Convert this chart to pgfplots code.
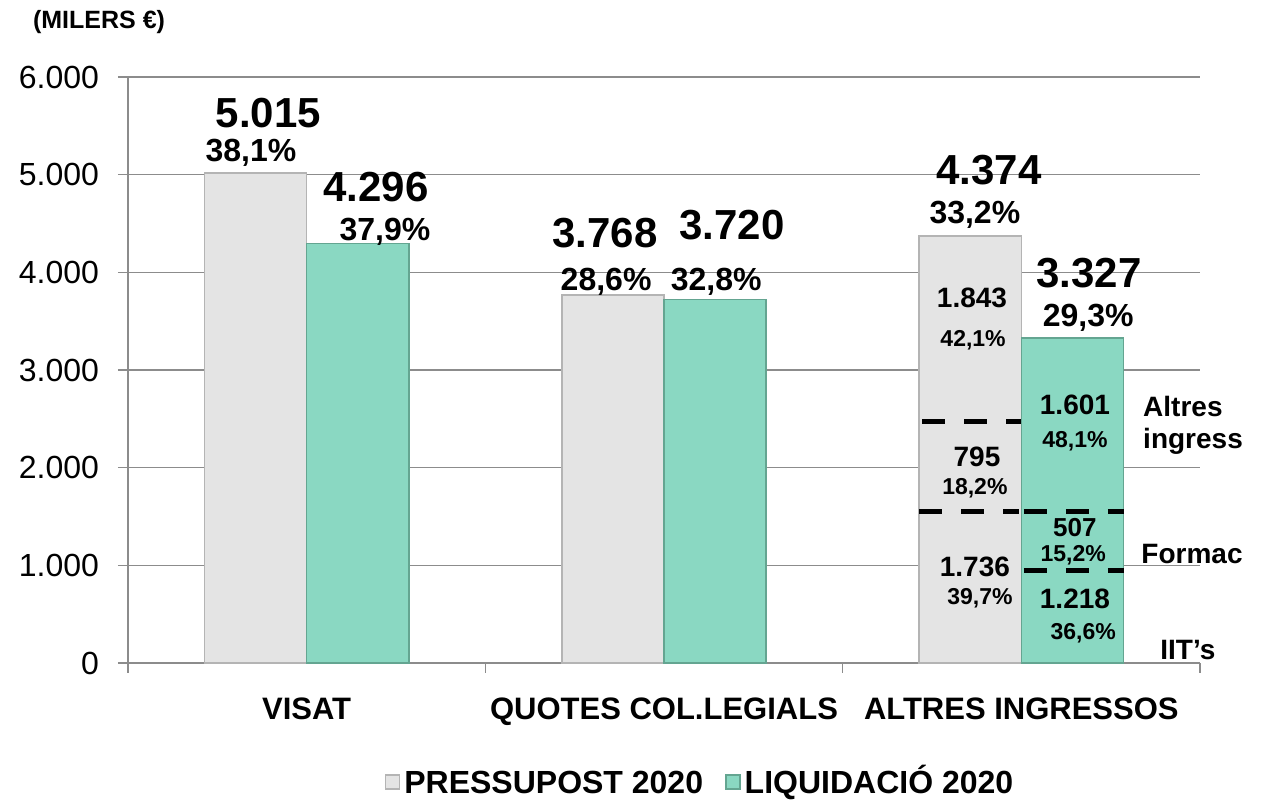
\documentclass[border=0pt]{standalone}
\usepackage{fontspec}
\setmainfont{Liberation Sans}
\usepackage{pgfplots}
\pgfplotsset{compat=1.18}
\definecolor{barGray}{RGB}{228,228,228}
\definecolor{barGrayEdge}{RGB}{180,180,180}
\definecolor{barTeal}{RGB}{138,216,194}
\definecolor{barTealEdge}{RGB}{100,165,145}
\definecolor{gridGray}{RGB}{140,140,140}
\newcommand{\fbig}{\fontsize{21}{25}\selectfont\bfseries}
\newcommand{\fpct}{\fontsize{16}{19}\selectfont\bfseries}
\newcommand{\fin}{\fontsize{14}{17}\selectfont\bfseries}
\newcommand{\fmid}{\fontsize{13}{15}\selectfont\bfseries}
\newcommand{\fsm}{\fontsize{11.5}{14}\selectfont\bfseries}
\begin{document}
\begin{tikzpicture}[x=1pt,y=1pt]
\path[use as bounding box] (0,0) rectangle (632.5,400.5);
\begin{axis}[
  at={(64pt,69pt)}, anchor=south west,
  scale only axis, width=536pt, height=293pt,
  xmin=-0.5, xmax=2.5, ymin=0, ymax=6000,
  clip=false,
  axis x line*=bottom, axis y line*=left,
  axis line style={draw=gridGray, line width=0.7pt, -},
  ytick={0,1000,...,6000},
  ymajorgrids, grid style={draw=gridGray, line width=0.7pt},
  tick align=outside, major tick length=5pt, minor tick length=5pt,
  tick style={draw=gridGray, line width=0.7pt},
  xtick={0,1,2},
  xticklabels={VISAT, QUOTES COL.LEGIALS, ALTRES INGRESSOS},
  every major x tick/.append style={draw=none},
  minor xtick={-0.5,0.5,1.5,2.5},
  xticklabel style={font=\fontsize{15.5}{18}\selectfont\bfseries, anchor=base, yshift=-23.5pt},
  yticklabel style={font=\fontsize{16}{19}\selectfont, anchor=east, xshift=-6pt},
  /pgf/number format/.cd, 1000 sep={.}, assume math mode=true,
  /pgfplots/.cd,
  legend style={at={(0.5345,-0.2030)}, anchor=center, draw=none, fill=none,
    legend columns=2, font=\fontsize{16}{19}\selectfont\bfseries,
    nodes={text height=11.5pt, text depth=0pt},
    /tikz/every even column/.append style={column sep=9pt}},
  legend image code/.code={\draw[#1] (0pt,-3.5pt) rectangle (7pt,3.5pt);},
]
\addplot[ybar, bar width=0.286, bar shift=-0.143, fill=barGray, draw=barGrayEdge, line width=0.8pt]
  coordinates {(0,5015) (1,3768) (2,4374)};
\addlegendentry{PRESSUPOST 2020}
\addplot[ybar, bar width=0.286, bar shift=0.143, fill=barTeal, draw=barTealEdge, line width=0.8pt]
  coordinates {(0,4296) (1,3720) (2,3327)};
\addlegendentry{LIQUIDACIÓ 2020}
% dashed separators
\addplot[forget plot, black, line width=2.5pt, dash pattern=on 11.5pt off 9.5pt] coordinates {(1.722,2468) (1.998,2468)};
\addplot[forget plot, black, line width=2.5pt, dash pattern=on 11.5pt off 9.5pt] coordinates {(1.714,1556) (1.993,1556)};
\addplot[forget plot, black, line width=2.5pt, dash pattern=on 11.5pt off 9.5pt] coordinates {(2.007,1556) (2.286,1556)};
\addplot[forget plot, black, line width=2.5pt, dash pattern=on 11.5pt off 9.5pt] coordinates {(2.007,942) (2.286,942)};
% top values
\node[font=\fbig, inner sep=0pt] at (axis cs:-0.107,5631) {5.015};
\node[font=\fpct, inner sep=0pt] at (axis cs:-0.156,5222) {38,1\%};
\node[font=\fbig, inner sep=0pt] at (axis cs:0.194,4874) {4.296};
\node[font=\fpct, inner sep=0pt] at (axis cs:0.219,4413) {37,9\%};
\node[font=\fbig, inner sep=0pt] at (axis cs:0.835,4403) {3.768};
\node[font=\fpct, inner sep=0pt] at (axis cs:0.838,3901) {28,6\%};
\node[font=\fbig, inner sep=0pt] at (axis cs:1.190,4485) {3.720};
\node[font=\fpct, inner sep=0pt] at (axis cs:1.146,3901) {32,8\%};
\node[font=\fbig, inner sep=0pt] at (axis cs:1.909,5048) {4.374};
\node[font=\fpct, inner sep=0pt] at (axis cs:1.870,4587) {33,2\%};
\node[font=\fbig, inner sep=0pt] at (axis cs:2.189,3993) {3.327};
\node[font=\fpct, inner sep=0pt] at (axis cs:2.187,3532) {29,3\%};
% segment values
\node[font=\fin, inner sep=0pt] at (axis cs:1.862,3737) {1.843};
\node[font=\fsm, inner sep=0pt] at (axis cs:1.865,3307) {42,1\%};
\node[font=\fin, inner sep=0pt] at (axis cs:1.876,2109) {795};
\node[font=\fsm, inner sep=0pt] at (axis cs:1.870,1792) {18,2\%};
\node[font=\fin, inner sep=0pt] at (axis cs:1.870,983) {1.736};
\node[font=\fsm, inner sep=0pt] at (axis cs:1.884,666) {39,7\%};
\node[font=\fin, inner sep=0pt] at (axis cs:2.150,2642) {1.601};
\node[font=\fsm, inner sep=0pt] at (axis cs:2.150,2273) {48,1\%};
\node[font=\fmid, inner sep=0pt] at (axis cs:2.150,1390) {507};
\node[font=\fsm, inner sep=0pt] at (axis cs:2.145,1105) {15,2\%};
\node[font=\fin, inner sep=0pt] at (axis cs:2.150,655) {1.218};
\node[font=\fsm, inner sep=0pt] at (axis cs:2.173,307) {36,6\%};
% side labels
\node[font=\fin, inner sep=0pt, anchor=west] at (axis cs:2.340,2631) {Altres};
\node[font=\fin, inner sep=0pt, anchor=west] at (axis cs:2.340,2273) {ingress};
\node[font=\fin, inner sep=0pt, anchor=west] at (axis cs:2.335,1116) {Formac};
\node[font=\fin, inner sep=0pt, anchor=west] at (axis cs:2.388,133) {IIT’s};
% unit label
\node[font=\fontsize{12.5}{15}\selectfont\bfseries, inner sep=0pt] at (axis description cs:-0.027,1.094) {(MILERS €)};
\end{axis}
\end{tikzpicture}
\end{document}
